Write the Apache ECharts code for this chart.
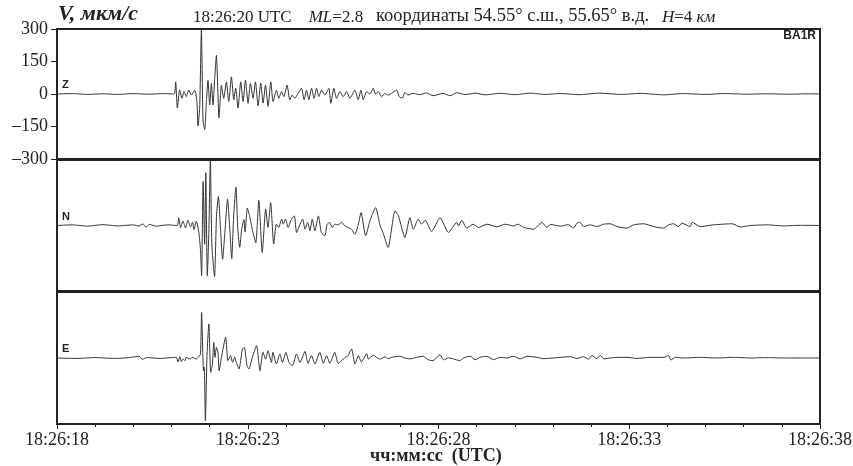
<!DOCTYPE html>
<html>
<head>
<meta charset="utf-8">
<script src="https://cdn.jsdelivr.net/npm/echarts@6/dist/echarts.min.js"></script>
<style>
  html, body { margin: 0; padding: 0; background: #fff; }
  #chart { width: 853px; height: 466px; }
</style>
</head>
<body>
<div id="chart"></div>
<script>
// time in seconds after 18:26:18 UTC, velocity in мкм/с
const zT = [0, 0.4, 0.8, 1.2, 1.6, 2.0, 2.4, 2.8, 3.07, 3.11, 3.155, 3.215, 3.276, 3.328, 3.391, 3.451, 3.522, 3.609, 3.669, 3.696, 3.74, 3.785, 3.827, 3.871, 3.916, 3.958, 4.003, 4.047, 4.089, 4.134, 4.178, 4.247, 4.31, 4.37, 4.441, 4.501, 4.572, 4.633, 4.685, 4.745, 4.816, 4.877, 4.94, 5.008, 5.071, 5.139, 5.202, 5.27, 5.341, 5.402, 5.465, 5.533, 5.604, 5.664, 5.753, 5.814, 5.885, 5.945, 6.031, 6.102, 6.163, 6.234, 6.32, 6.409, 6.478, 6.541, 6.601, 6.672, 6.74, 6.803, 6.864, 6.934, 7.021, 7.126, 7.178, 7.257, 7.328, 7.415, 7.501, 7.591, 7.677, 7.808, 7.895, 7.966, 8.026, 8.115, 8.202, 8.289, 8.352, 8.42, 8.509, 8.596, 8.682, 8.772, 8.903, 8.971, 9.05, 9.121, 9.199, 9.331, 9.514, 9.672, 9.856, 10.118, 10.302, 10.486, 10.696, 10.958, 11.22, 11.614, 12.008, 12.402, 12.795, 13.189, 13.7, 14.2, 14.8, 15.3, 15.9, 16.4, 17.0, 17.5, 18.1, 18.6, 19.2, 19.7, 20]
const zV = [0, 2, -2, 1, -2, 2, -1, 2, 0, 56, -65, 19, -20, 11, -12, 18, -5, 18, -40, -147, -64, 295, -120, -165, -35, 63, -50, 48, -50, 71, 178, -110, 41, -20, 56, -35, 79, -27, 26, -65, 56, -35, 64, -43, 49, -20, 56, -55, 50, -42, 41, -57, 56, -35, 18, -20, 11, -12, 41, -27, -5, -20, 3, 26, -27, 18, -27, 26, -20, 26, -12, 18, -5, 26, -43, 26, -20, 11, -12, 11, -20, 18, -27, 18, -27, 11, 0, 26, 0, 11, -12, 3, -5, 3, 18, -12, -20, 8, -5, 3, -3, 5, -8, 3, -8, 6, -3, 4, -4, 3, -3, 4, -2, 2, -3, 4, -2, 3, -4, 2, -2, 2, -1, 1, -1, 1, 0]

const nT = [0, 0.4, 0.8, 1.2, 1.6, 2.0, 2.15, 2.25, 2.33, 2.42, 2.6, 2.9, 3.15, 3.19, 3.24, 3.30, 3.37, 3.43, 3.50, 3.55, 3.59, 3.65, 3.72, 3.76, 3.79, 3.83, 3.87, 3.90, 3.94, 3.98, 4.02, 4.06, 4.13, 4.18, 4.23, 4.29, 4.34, 4.40, 4.47, 4.53, 4.58, 4.63, 4.69, 4.74, 4.79, 4.84, 4.90, 4.93, 4.99, 5.05, 5.12, 5.21, 5.29, 5.38, 5.47, 5.53, 5.60, 5.68, 5.75, 5.81, 5.89, 5.93, 5.99, 6.06, 6.13, 6.22, 6.28, 6.37, 6.44, 6.50, 6.57, 6.63, 6.69, 6.76, 6.85, 6.93, 7.02, 7.08, 7.15, 7.21, 7.28, 7.37, 7.46, 7.55, 7.63, 7.72, 7.81, 7.90, 7.97, 8.09, 8.20, 8.35, 8.47, 8.54, 8.68, 8.86, 8.95, 9.12, 9.25, 9.34, 9.47, 9.56, 9.65, 9.82, 10.04, 10.26, 10.48, 10.52, 10.61, 10.74, 10.91, 11.05, 11.27, 11.53, 11.75, 11.96, 12.09, 12.23, 12.49, 12.71, 12.84, 12.93, 13.2, 13.4, 13.54, 13.63, 13.70, 13.80, 13.98, 14.15, 14.33, 14.50, 14.68, 14.94, 15.11, 15.38, 15.64, 15.90, 16.03, 16.16, 16.29, 16.38, 16.60, 16.65, 16.86, 17.21, 17.70, 17.91, 18.18, 18.61, 19.05, 19.49, 20]
const nV = [0, 3, -3, 4, -2, 3, -3, 8, -8, 5, -3, 3, 0, 35, -10, 20, -11, 24, -6, 15, -18, 20, -33, -109, -230, 201, -86, 242, -230, -33, 298, -94, -233, 42, 133, -27, -155, -33, 121, -18, -152, 42, 176, -18, -100, -18, 27, -30, 80, 42, -18, -79, 115, -123, 75, -9, 105, -85, 6, -9, 29, 6, 29, -9, 24, 44, -32, 6, 29, -17, 14, -24, 29, -24, 44, -32, -47, 6, 14, -9, 6, 3, 14, -2, -9, -17, -40, 6, 59, -47, 20, 82, 0, -30, -100, 67, 44, -55, 36, -17, 29, 6, 24, -27, 36, -32, 14, -2, 24, -12, 6, -9, 6, -6, 6, -2, 6, -9, -17, 14, -9, 5, -3, 4, -12, 11, 15, -5, 3, -5, 6, 8, -5, -12, 3, 8, -5, -12, 3, 8, -5, 11, -5, 14, -5, 3, 8, -7, 0, 3, -2, 1, 0]

const eT = [0, 0.5, 1.0, 1.5, 1.9, 2.15, 2.24, 2.35, 2.7, 3.0, 3.13, 3.17, 3.22, 3.26, 3.30, 3.35, 3.39, 3.48, 3.56, 3.65, 3.70, 3.76, 3.79, 3.84, 3.86, 3.89, 3.93, 3.98, 4.03, 4.07, 4.11, 4.14, 4.18, 4.22, 4.25, 4.31, 4.42, 4.48, 4.55, 4.60, 4.66, 4.70, 4.77, 4.86, 4.91, 4.98, 5.03, 5.12, 5.23, 5.32, 5.40, 5.47, 5.53, 5.62, 5.66, 5.75, 5.84, 5.91, 6.00, 6.08, 6.17, 6.28, 6.37, 6.50, 6.58, 6.67, 6.76, 6.89, 6.98, 7.07, 7.15, 7.28, 7.37, 7.46, 7.55, 7.63, 7.72, 7.81, 7.90, 7.98, 8.12, 8.16, 8.29, 8.38, 8.47, 8.60, 8.68, 8.77, 8.99, 9.12, 9.25, 9.43, 9.60, 9.73, 9.86, 10.04, 10.13, 10.26, 10.39, 10.56, 10.65, 10.83, 10.96, 11.09, 11.27, 11.44, 11.61, 11.79, 11.96, 12.14, 12.32, 12.58, 12.75, 13.01, 13.45, 13.63, 13.80, 13.93, 14.02, 14.15, 14.24, 14.33, 14.50, 14.68, 14.94, 15.20, 15.55, 15.90, 16.03, 16.09, 16.21, 16.43, 16.86, 17.30, 17.74, 18.18, 18.61, 19.05, 19.49, 20]
const eV = [0, -2, 2, -2, 2, 8, -6, 2, -2, 2, 3, -18, 6, -17, -5, -12, 3, -5, 3, -5, 3, 18, 207, -58, -42, -285, 3, 155, -65, -35, 71, 3, 48, 26, -58, 3, 94, -12, 11, -20, 3, -20, -50, 41, 48, -35, -50, 3, 56, -58, 26, -5, 33, -20, 26, -27, 18, -20, 26, -20, -35, 18, -20, 30, -24, 11, -27, 26, -24, 11, -24, 26, -24, -12, 3, 11, 41, -27, 11, -18, 20, -5, 12, 3, -5, 5, -3, 3, 8, 0, -4, 3, 8, -8, -12, 15, -8, 0, -4, -12, 0, 8, -8, 3, 8, -8, 3, 0, 8, -4, 8, 3, -3, 0, 6, -2, 6, -5, 11, -3, 12, -4, 0, 3, 3, -2, 3, 3, 11, -9, 3, 0, 3, 0, 3, 0, 2, 0, 0, 0]

const yTicks = [-300, -150, 0, 150, 300]
const xLabelStart = 18 // seconds of 18:26:xx at t = 0
const components = ['Z', 'N', 'E']
const traces = [[zT, zV], [nT, nV], [eT, eV]]

const serif = '"Liberation Serif", "Times New Roman", serif'
const sans = '"Liberation Sans", Arial, sans-serif'
const frame = '#222'

// panels touch: borders overlap into a thicker separator
const panelTop = [29, 160, 292]
const panelH = [130, 131, 132]

const myChart = echarts.init(document.getElementById('chart'))

const option = {
  animation: false,
  backgroundColor: '#fff',
  grid: panelTop.map((top, i) => ({
    left: 57, top: top, width: 763, height: panelH[i],
    outerBoundsMode: 'none', containLabel: false,
    show: true, borderColor: frame, borderWidth: 2, backgroundColor: 'transparent'
  })),
  xAxis: components.map((c, i) => ({
    type: 'value', gridIndex: i, min: 0, max: 20, interval: 5,
    show: i === 2,
    axisLine: { show: true, onZero: false, lineStyle: { color: frame, width: 2 } },
    axisTick: { show: true, length: 5, lineStyle: { color: frame, width: 1 } },
    minorTick: { show: true, splitNumber: 5, length: 3, lineStyle: { color: frame, width: 1 } },
    splitLine: { show: false },
    axisLabel: {
      color: '#222', fontFamily: serif, fontSize: 18, margin: 7,
      formatter: v => '18:26:' + (xLabelStart + v)
    }
  })),
  yAxis: components.map((c, i) => ({
    type: 'value', gridIndex: i, min: yTicks[0], max: yTicks[yTicks.length - 1], interval: 150,
    show: i === 0,
    axisLine: { show: true, lineStyle: { color: frame, width: 2 } },
    axisTick: { show: true, length: 6, lineStyle: { color: frame, width: 1 } },
    splitLine: { show: false },
    axisLabel: {
      color: '#222', fontFamily: serif, fontSize: 18, margin: 9,
      formatter: v => v < 0 ? '\u2013' + (-v) : String(v)
    }
  })),
  series: traces.map((tr, i) => ({
    type: 'line', xAxisIndex: i, yAxisIndex: i,
    data: tr[0].map((t, k) => [t, tr[1][k]]),
    symbol: 'none', smooth: 0.2,
    lineStyle: { color: '#333', width: 1 }
  })),
  graphic: [
    { type: 'text', left: 58, top: 3,
      style: { text: 'V, мкм/с', font: 'bold italic 22px ' + serif, fill: '#222' } },
    { type: 'text', left: 193, top: 7,
      style: {
        text: '{n|18:26:20 UTC}    {i|ML}{n|=2.8}   {c|координаты 54.55° с.ш., 55.65° в.д.}   {i|H}{n|=4} {i|км}',
        font: '17px ' + serif, fill: '#222',
        rich: {
          n: { fontFamily: serif, fontSize: 17, fill: '#222', verticalAlign: 'bottom' },
          i: { fontFamily: serif, fontSize: 17, fontStyle: 'italic', fill: '#222', verticalAlign: 'bottom' },
          c: { fontFamily: serif, fontSize: 18.5, fill: '#222', verticalAlign: 'bottom' }
        }
      } },
    { type: 'text', right: 37, top: 30,
      style: { text: 'BA1R', font: 'bold 12px ' + sans, fill: '#222' } },
    { type: 'text', left: 62, top: 79,
      style: { text: 'Z', font: 'bold 11px ' + sans, fill: '#222' } },
    { type: 'text', left: 62, top: 211,
      style: { text: 'N', font: 'bold 11px ' + sans, fill: '#222' } },
    { type: 'text', left: 62, top: 343,
      style: { text: 'E', font: 'bold 11px ' + sans, fill: '#222' } },
    { type: 'text', left: 370, top: 447,
      style: { text: 'чч:мм:сс  (UTC)', font: 'bold 18px ' + serif, fill: '#222' } }
  ]
}

if (option && typeof option === 'object') {
  myChart.setOption(option, true)
}
</script>
</body>
</html>
